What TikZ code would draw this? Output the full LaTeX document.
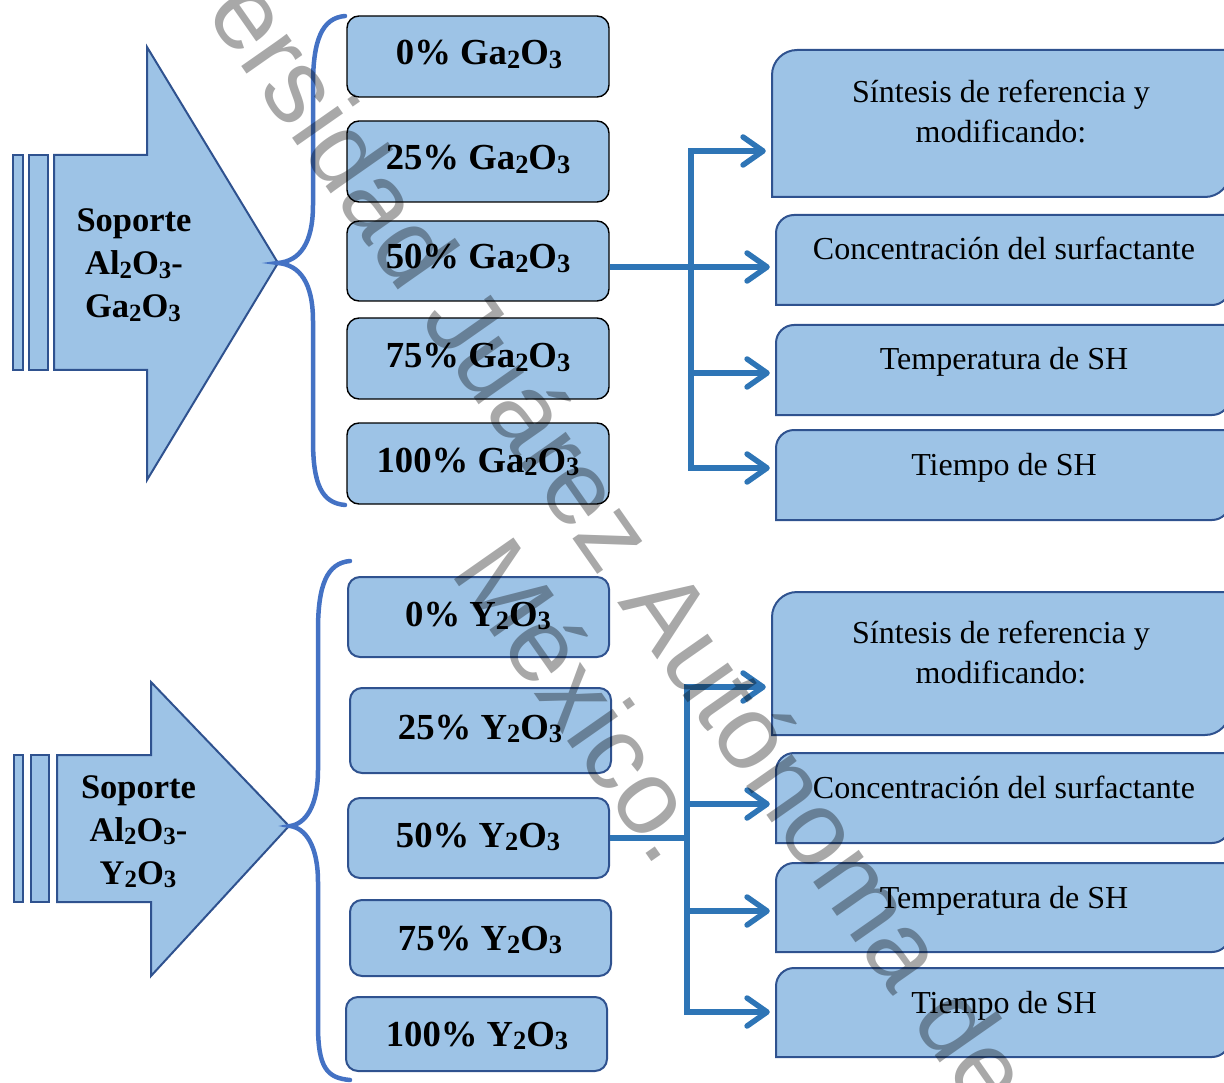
\documentclass[tikz,border=0pt]{standalone}
\usepackage{fontspec}
\setmainfont{Liberation Serif}
\newfontfamily\wmfont{Liberation Sans}
\usepackage{graphicx}
\usetikzlibrary{arrows.meta}
\definecolor{fillb}{HTML}{9DC3E6}
\definecolor{edgeb}{HTML}{2F528F}
\definecolor{braceb}{HTML}{4472C4}
\definecolor{connb}{HTML}{2E75B6}
\newcommand\sbx[1]{\raisebox{-0.09em}{\scalebox{0.72}{#1}}}
\newcommand\rboxpath[5]{%
  \draw[rframe] (#1,#4) -- (#1,#2+#5) .. controls (#1,#2+0.45*#5) and (#1+0.45*#5,#2) .. (#1+#5,#2)
    -- (#3,#2) -- (#3,#4-#5) .. controls (#3,#4-0.45*#5) and (#3-0.45*#5,#4) .. (#3-#5,#4) -- cycle;}
\begin{document}
\begin{tikzpicture}[x=1pt,y=-1pt,
  shapeb/.style={draw=edgeb, line width=2pt, fill=fillb, line join=miter},
  pctbox/.style={draw=black, line width=1.4pt, fill=fillb, rounded corners=12pt, inner sep=0pt},
  pctboxb/.style={pctbox, draw=edgeb, line width=2pt},
  pcttext/.style={font=\fontsize{36.7}{44}\selectfont\bfseries, anchor=base, inner sep=0pt},
  lbl/.style={font=\fontsize{34.5}{42}\selectfont\bfseries, anchor=base, inner sep=0pt},
  rtext/.style={font=\fontsize{32}{39}\selectfont, anchor=base, inner sep=0pt},
  rframe/.style={draw=edgeb, line width=2pt, fill=fillb},
  rnode/.style={draw=none, inner sep=0pt},
  bracel/.style={draw=braceb, line width=4.5pt, line cap=round},
  conn/.style={draw=connb, line width=5.5pt, line join=miter},
  tipc/.style={conn, -{Straight Barb[length=20pt,width=28pt,round]}, shorten >=6pt},
  wm/.style={font=\wmfont\fontsize{105.5}{121}\selectfont, text=black, text opacity=0.34, anchor=base west, rotate=-55, inner sep=0pt}
]
\useasboundingbox (0,0) rectangle (1224,1083);

% ---------- top striped arrow ----------
\draw[shapeb] (13,155) rectangle (23,370);
\draw[shapeb] (29,155) rectangle (48,370);
\draw[shapeb] (54,155) -- (147,155) -- (147,47) -- (278,263) -- (147,480) -- (147,370) -- (54,370) -- cycle;
\node[lbl] (s1a) at (134,232) {Soporte};
\node[lbl] (s1b) at (134,275) {Al\sbx{2}O\sbx{3}-};
\node[lbl] (s1c) at (133,318) {Ga\sbx{2}O\sbx{3}};

% brace top
\draw[bracel] (345,16) .. controls (322,18) and (313,40) .. (313,85) -- (313,205)
  .. controls (313,243) and (300,261) .. (278,263)
  .. controls (300,265) and (313,283) .. (313,321) -- (313,440)
  .. controls (313,485) and (322,503) .. (345,505);

% percent boxes top
\node[pctbox, minimum width=262pt, minimum height=81pt] (g0) at (478,56.5) {};
\node[pctbox, minimum width=262pt, minimum height=81pt] (g25) at (478,161.5) {};
\node[pctbox, minimum width=262pt, minimum height=80pt] (g50) at (478,261) {};
\node[pctbox, minimum width=262pt, minimum height=81pt] (g75) at (478,358.5) {};
\node[pctbox, minimum width=262pt, minimum height=81pt] (g100) at (478,463.5) {};
\node[pcttext] (g0t) at (479,65) {0\% Ga\sbx{2}O\sbx{3}};
\node[pcttext] (g25t) at (478,170) {25\% Ga\sbx{2}O\sbx{3}};
\node[pcttext] (g50t) at (478,269) {50\% Ga\sbx{2}O\sbx{3}};
\node[pcttext] (g75t) at (478,368) {75\% Ga\sbx{2}O\sbx{3}};
\node[pcttext] (g100t) at (478,472) {100\% Ga\sbx{2}O\sbx{3}};

% right boxes top
\rboxpath{772}{50}{1230}{197}{25}
\rboxpath{776}{215}{1230}{305}{18}
\rboxpath{776}{325}{1230}{415}{18}
\rboxpath{776}{430}{1230}{520}{18}
\node[rnode, minimum width=458pt, minimum height=147pt] (rA1) at (1001,123.5) {};
\node[rnode, minimum width=454pt, minimum height=90pt] (rB1) at (1003,260) {};
\node[rnode, minimum width=454pt, minimum height=90pt] (rC1) at (1003,370) {};
\node[rnode, minimum width=454pt, minimum height=90pt] (rD1) at (1003,475) {};
\node[rtext] (rA1t) at (1001,103) {Síntesis de referencia y};
\node[rtext] (rA1u) at (1001,143) {modificando:};
\node[rtext] (rB1t) at (1004,260) {Concentración del surfactante};
\node[rtext] (rC1t) at (1004,370) {Temperatura de SH};
\node[rtext] (rD1t) at (1004,475) {Tiempo de SH};

% connectors top
\coordinate (t1) at (691,151);
\coordinate (t2) at (691,267);
\coordinate (t3) at (691,373);
\coordinate (t4) at (691,468);
\draw[tipc] (t2) -- (t1) -- (t1 -| rA1.west);
\draw[tipc] (t2) -- (t4) -- (t4 -| rD1.west);
\draw[tipc] (g50.east |- t2) -- (t2 -| rB1.west);
\draw[tipc] (t3) -- (t3 -| rC1.west);

% ---------- bottom striped arrow ----------
\draw[shapeb] (14,755) rectangle (23,902);
\draw[shapeb] (31,755) rectangle (49,902);
\draw[shapeb] (57,755) -- (151,755) -- (151,682) -- (289,826) -- (151,976) -- (151,902) -- (57,902) -- cycle;
\node[lbl] (s2a) at (138.5,798) {Soporte};
\node[lbl] (s2b) at (138.5,841) {Al\sbx{2}O\sbx{3}-};
\node[lbl] (s2c) at (138,884) {Y\sbx{2}O\sbx{3}};

% brace bottom
\draw[bracel] (350,561) .. controls (327,563) and (318,585) .. (318,630) -- (318,770)
  .. controls (318,807) and (305,824) .. (290,826)
  .. controls (305,828) and (318,845) .. (318,882) -- (318,1025)
  .. controls (318,1068) and (327,1078) .. (350,1080);

% percent boxes bottom
\node[pctboxb, minimum width=261pt, minimum height=80pt] (y0) at (478.5,617) {};
\node[pctboxb, minimum width=261pt, minimum height=85pt] (y25) at (480.5,730.5) {};
\node[pctboxb, minimum width=261pt, minimum height=80pt] (y50) at (478.5,838) {};
\node[pctboxb, minimum width=261pt, minimum height=76pt] (y75) at (480.5,938) {};
\node[pctboxb, minimum width=261pt, minimum height=74pt] (y100) at (476.5,1034) {};
\node[pcttext] (y0t) at (478,626) {0\% Y\sbx{2}O\sbx{3}};
\node[pcttext] (y25t) at (480,739) {25\% Y\sbx{2}O\sbx{3}};
\node[pcttext] (y50t) at (478,847) {50\% Y\sbx{2}O\sbx{3}};
\node[pcttext] (y75t) at (480,950) {75\% Y\sbx{2}O\sbx{3}};
\node[pcttext] (y100t) at (477,1046) {100\% Y\sbx{2}O\sbx{3}};

% right boxes bottom
\rboxpath{772}{592}{1230}{735}{25}
\rboxpath{776}{753}{1230}{843}{18}
\rboxpath{776}{863}{1230}{952}{18}
\rboxpath{776}{968}{1230}{1057}{18}
\node[rnode, minimum width=458pt, minimum height=143pt] (rA2) at (1001,663.5) {};
\node[rnode, minimum width=454pt, minimum height=90pt] (rB2) at (1003,798) {};
\node[rnode, minimum width=454pt, minimum height=89pt] (rC2) at (1003,907.5) {};
\node[rnode, minimum width=454pt, minimum height=89pt] (rD2) at (1003,1012.5) {};
\node[rtext] (rA2t) at (1001,643) {Síntesis de referencia y};
\node[rtext] (rA2u) at (1001,683) {modificando:};
\node[rtext] (rB2t) at (1004,798) {Concentración del surfactante};
\node[rtext] (rC2t) at (1004,908) {Temperatura de SH};
\node[rtext] (rD2t) at (1004,1013) {Tiempo de SH};

% connectors bottom
\coordinate (u1) at (687,687);
\coordinate (u2) at (687,804);
\coordinate (um) at (687,838);
\coordinate (u3) at (687,911);
\coordinate (u4) at (687,1012);
\draw[tipc] (um) -- (u1) -- (u1 -| rA2.west);
\draw[tipc] (um) -- (u4) -- (u4 -| rD2.west);
\draw[conn] (y50.east |- um) -- (um);
\draw[tipc] (u2) -- (u2 -| rB2.west);
\draw[tipc] (u3) -- (u3 -| rC2.west);

% ---------- watermark ----------
\node[wm] (wm1) at (204,12) {ersidad Juárez Autónoma de};
\node[wm] (wm2) at (449,572) {México.};
\end{tikzpicture}
\end{document}
